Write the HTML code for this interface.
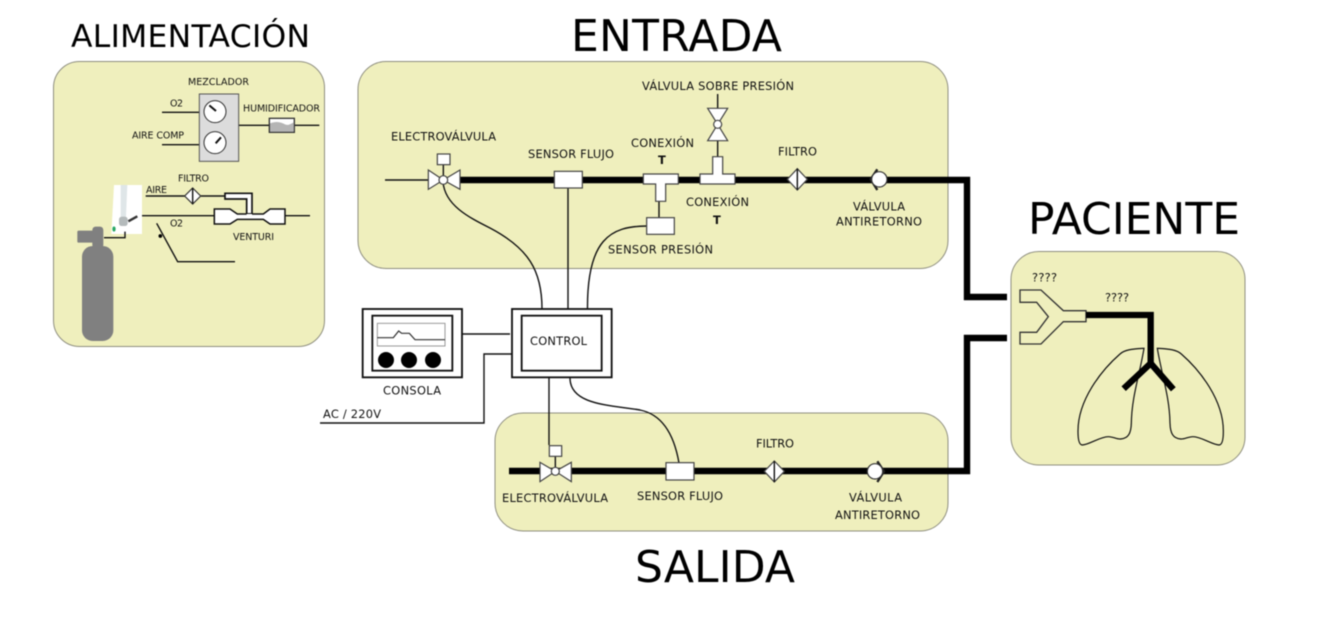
<!DOCTYPE html>
<html lang="es">
<head>
<meta charset="utf-8">
<title>Diagrama</title>
<style>
html,body{margin:0;padding:0;background:#fff;width:1317px;height:626px;overflow:hidden}
svg{display:block;filter:blur(.45px)}
text{font-family:"DejaVu Sans",sans-serif;fill:#111}
.a{font-size:9.5px}.b{font-size:11.4px}
.t{font-size:44px;fill:#000}
.panel{fill:#efefbd;stroke:#8f8f80;stroke-width:1}
.w{fill:none;stroke:#111;stroke-width:4.2}
.s{fill:#fff;stroke:#444;stroke-width:3.6}
</style>
</head>
<body>
<svg width="1317" height="626" viewBox="0 0 1317 626" xmlns="http://www.w3.org/2000/svg">
<rect width="1317" height="626" fill="#fff"/>

<!-- Titles -->
<text class="t" x="71" y="47" style="font-size:31.4px" textLength="239">ALIMENTACIÓN</text>
<text class="t" x="571" y="51" textLength="211">ENTRADA</text>
<text class="t" x="1028" y="234" textLength="212">PACIENTE</text>
<text class="t" x="635" y="582" textLength="160">SALIDA</text>

<!-- Panels -->
<rect class="panel" x="53.5" y="61.5" width="271" height="285" rx="26"/>
<rect class="panel" x="358" y="61.5" width="590" height="207" rx="28"/>
<rect class="panel" x="495" y="413" width="453" height="118" rx="28"/>
<rect class="panel" x="1011" y="251.5" width="234" height="213.5" rx="28"/>

<!-- Main pipes -->
<path d="M460,180H967V297H1007" fill="none" stroke="#000" stroke-width="6.4"/>
<path d="M509,471H967V338H1007" fill="none" stroke="#000" stroke-width="6.4"/>

<!-- Control wires -->
<g fill="none" stroke="#111" stroke-width="1.4">
<path d="M443,182C445,205 468,217 490,228C528,248 542,270 542,309"/>
<path d="M568,188V309"/>
<path d="M647,226C610,226 587,240 587.5,309"/>
<path d="M659,201V218"/>
<path d="M549,377V445"/>
<path d="M570,378C570,405 610,405 640,410C665,415 675,440 679,463"/>
<path d="M462,334H510"/>
<path d="M512,354H484V423H320"/>
<path d="M385,180H428"/>
</g>

<!-- ENTRADA components -->
<g transform="translate(380,70) scale(.33333)">
<path class="s" d="M145,300L190,330L145,358Z"/>
<path class="s" d="M240,300L190,330L240,358Z"/>
<path class="w" d="M190,284V318"/>
<circle class="s" cx="190" cy="330" r="13"/>
<rect class="s" x="172" y="252" width="38" height="32"/>
<rect class="s" x="523" y="304" width="84" height="50"/>
<path class="s" d="M790,312H895V342H857V394H827V342H790Z"/>
<rect class="s" x="800" y="443" width="83" height="50"/>
</g>
<g transform="translate(670,70) scale(.33333)">
<path class="w" d="M143,72V115M143,212V260"/>
<path class="s" d="M113,115H173L143,163Z"/>
<path class="s" d="M113,212H173L143,163Z"/>
<circle class="s" cx="143" cy="163" r="12"/>
<path class="s" d="M128,312V260H158V312H195V342H90V312Z"/>
<path class="s" d="M382,296L412,328L382,360L352,328Z"/>
<path class="w" d="M382,296V360"/>
<path fill="none" stroke="#222" stroke-width="7" d="M622,298L602,328L622,360"/>
<circle cx="628" cy="328" r="23" fill="#fff" stroke="#333" stroke-width="3.6"/>
</g>

<!-- SALIDA components -->
<g transform="translate(495,430) scale(.33333)">
<path class="s" d="M135,97L181,124L135,155Z"/>
<path class="s" d="M229,97L181,124L229,155Z"/>
<path class="w" d="M181,79V112"/>
<circle class="s" cx="181" cy="124" r="12"/>
<rect class="s" x="163" y="47" width="37" height="32"/>
<rect class="s" x="513" y="98" width="84" height="52"/>
<path class="s" d="M838,93L868,124L838,156L808,124Z"/>
<path class="w" d="M838,93V156"/>
<path fill="none" stroke="#222" stroke-width="7" d="M1147,94L1167,124L1147,156"/>
<circle cx="1140" cy="124" r="23" fill="#fff" stroke="#333" stroke-width="3.6"/>
</g>

<!-- Console and control -->
<g transform="translate(310,300) scale(.33333)">
<rect x="158" y="27" width="298" height="205" fill="#fff" stroke="#111" stroke-width="5.5"/>
<rect x="187" y="47" width="240" height="165" fill="#fff" stroke="#111" stroke-width="5.5"/>
<rect x="202" y="70" width="203" height="68" fill="#fff" stroke="#999" stroke-width="3"/>
<path fill="none" stroke="#333" stroke-width="3.6" d="M202,113H250L266,93L275,100H298L315,119H405"/>
<circle cx="228" cy="180" r="24" fill="#000"/>
<circle cx="297" cy="180" r="24" fill="#000"/>
<circle cx="369" cy="180" r="24" fill="#000"/>
<rect x="606" y="27" width="299" height="205" fill="#fff" stroke="#111" stroke-width="5.5"/>
<rect x="635" y="47" width="240" height="165" fill="#fff" stroke="#111" stroke-width="5.5"/>
</g>

<!-- PACIENTE components -->
<g transform="translate(1005,250) scale(.33333)">
<path d="M45,120H108L175,182H243V215H175L108,282H45V247H95L130,200L95,157H45Z" fill="#efefbd" stroke="#333" stroke-width="4"/>
<path fill="none" stroke="#111" stroke-width="3.6" d="M417,295C385,297 360,298 345,312C290,360 218,450 219,545C219,565 222,585 232,585C255,583 285,560 310,560C325,560 335,568 347,567C370,565 378,550 379,520C380,440 405,370 417,295Z"/>
<path fill="none" stroke="#111" stroke-width="3.6" d="M457,295C489,297 514,298 529,312C584,360 656,450 655,545C655,565 652,585 642,585C619,583 589,560 564,560C549,560 539,568 527,567C504,565 496,550 495,520C494,440 469,370 457,295Z"/>
<path fill="none" stroke="#000" stroke-width="19" d="M243,195H437V340"/>
<path fill="none" stroke="#000" stroke-width="19" d="M356,416L437,340L505,418"/>
</g>

<!-- ALIMENTACION components -->
<g transform="translate(50,60) scale(.33333)">
<path class="w" d="M336,157H448M336,254H448M566,196H658M733,196H808"/>
<rect x="448" y="102" width="118" height="202" fill="#dcdcdc" stroke="#555" stroke-width="3"/>
<circle cx="495" cy="155" r="33" fill="#fff" stroke="#333" stroke-width="3"/>
<circle cx="495" cy="248" r="33" fill="#fff" stroke="#333" stroke-width="3"/>
<path stroke="#111" stroke-width="6" d="M478,136L498,153M497,250L513,232"/>
<rect x="658" y="175" width="75" height="42" fill="#fff" stroke="#333" stroke-width="4"/>
<path d="M660,190C680,182 695,187 705,193C715,198 725,190 731,187V215H660Z" fill="#b5b5b5"/>
<path class="w" d="M287,408H405M452,408H525M262,467H493M705,467H780"/>
<path class="s" style="stroke:#333" d="M428,384L452,408L428,432L404,408Z"/>
<path class="w" d="M428,384V432"/>
<path d="M525,400H606V462H590V417H525Z" fill="#fff" stroke="#111" stroke-width="5"/>
<path d="M493,447H540L562,462H640L660,447H705V492H660L640,478H562L540,492H493Z" fill="#fff" stroke="#111" stroke-width="4.5"/>
<path d="M590,462H606V470H590Z" fill="#fff"/>
<path d="M192,375H276V522H184Z" fill="#fff"/>
<path d="M212,375H232L228,470H212Z" fill="#dfe6e8"/>
<rect x="207" y="470" width="26" height="28" rx="8" fill="#b4babb"/>
<path stroke="#333" stroke-width="7" d="M235,484L262,469"/>
<ellipse cx="192" cy="507" rx="5" ry="8" fill="#2aa866"/>
<path class="w" d="M162,533H225V515"/>
<rect x="96" y="558" width="94" height="285" rx="32" fill="#808080"/>
<rect x="127" y="500" width="33" height="65" rx="10" fill="#808080"/>
<rect x="82" y="512" width="50" height="36" rx="4" fill="#808080"/>
<path fill="none" stroke="#111" stroke-width="4.2" d="M320,490L383,605H555"/>
<circle cx="331" cy="528" r="5.5" fill="#000"/>
</g>

<!-- ALIMENTACION labels -->
<text class="a" x="188" y="85" textLength="61">MEZCLADOR</text>
<text class="a" x="170" y="106.7" textLength="13">O2</text>
<text class="a" x="132" y="138.7" textLength="52">AIRE COMP</text>
<text class="a" x="243" y="111.7" textLength="77">HUMIDIFICADOR</text>
<text class="a" x="178" y="181.3" textLength="31">FILTRO</text>
<text class="a" x="146" y="193" textLength="21">AIRE</text>
<text class="a" x="170" y="226.7" textLength="13">O2</text>
<text class="a" x="233" y="240" textLength="41">VENTURI</text>

<!-- ENTRADA labels -->
<text class="b" x="642" y="90" textLength="152">VÁLVULA SOBRE PRESIÓN</text>
<text class="b" x="391" y="140.3" textLength="105">ELECTROVÁLVULA</text>
<text class="b" x="528" y="158" textLength="86">SENSOR FLUJO</text>
<text class="b" x="631" y="147" textLength="63">CONEXIÓN</text>
<text class="b" x="658" y="164" font-weight="bold">T</text>
<text class="b" x="778" y="155.7" textLength="39">FILTRO</text>
<text class="b" x="686" y="206" textLength="63">CONEXIÓN</text>
<text class="b" x="713" y="224" font-weight="bold">T</text>
<text class="b" x="853" y="210.7" textLength="52">VÁLVULA</text>
<text class="b" x="836" y="225.7" textLength="86">ANTIRETORNO</text>
<text class="b" x="608" y="253.7" textLength="105">SENSOR PRESIÓN</text>

<!-- Control labels -->
<text class="b" x="530" y="345" textLength="57">CONTROL</text>
<text class="b" x="383" y="394.7" textLength="58">CONSOLA</text>
<text class="b" x="323" y="418" textLength="58">AC / 220V</text>

<!-- SALIDA labels -->
<text class="b" x="756" y="447.7" textLength="38">FILTRO</text>
<text class="b" x="502" y="502" textLength="106">ELECTROVÁLVULA</text>
<text class="b" x="637" y="500" textLength="86">SENSOR FLUJO</text>
<text class="b" x="849" y="501.7" textLength="53">VÁLVULA</text>
<text class="b" x="835" y="519" textLength="85">ANTIRETORNO</text>

<!-- PACIENTE labels -->
<text class="b" x="1032" y="281.7" textLength="25">????</text>
<text class="b" x="1105" y="301.7" textLength="24">????</text>
</svg>
</body>
</html>
